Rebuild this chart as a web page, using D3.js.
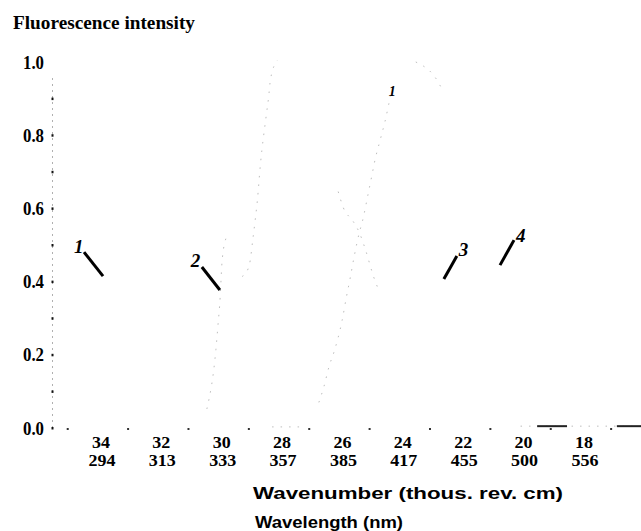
<!DOCTYPE html>
<html><head><meta charset="utf-8">
<script src="https://cdn.jsdelivr.net/npm/d3@7"></script>
<style>body{margin:0;background:#fff}svg{display:block}</style>
</head><body><svg id="c" width="641" height="531"></svg>
<script>
// ---- data ----
const yTicks = [0.0, 0.2, 0.4, 0.6, 0.8, 1.0];
const yTickLabels = ["0.0", "0.2", "0.4", "0.6", "0.8", "1.0"];
const yMinorTicks = [0.1, 0.3, 0.5, 0.7, 0.9];
const wavenumberTicks = [34, 32, 30, 28, 26, 24, 22, 20, 18];
const wavelengthLabels = ["294", "313", "333", "357", "385", "417", "455", "500", "556"];
const oddTicks = [35, 33, 31, 29, 27, 25, 23, 21, 19, 17];

// visible (faded) traces of the spectra, wavenumber (thous.) / intensity
const curve1W = [26.78, 26.61, 26.44, 26.27, 26.01, 25.87, 25.74, 25.61, 25.44, 25.34, 25.14, 25.0, 24.94, 24.74, 24.6, 24.37];
const curve1I = [0.07, 0.114, 0.169, 0.21, 0.294, 0.357, 0.411, 0.469, 0.534, 0.564, 0.643, 0.70, 0.725, 0.79, 0.834, 0.924];
const curve1topW = [23.57, 22.76, 22.66];
const curve1topI = [1.0, 0.935, 0.916];
const curve2W = [29.32, 29.12, 29.05, 28.98, 28.88, 28.82, 28.72, 28.52, 28.45, 28.38, 28.15];
const curve2I = [0.414, 0.436, 0.46, 0.507, 0.575, 0.619, 0.717, 0.856, 0.90, 0.954, 1.005];
const curve2bW = [26.14, 25.97, 25.64, 25.44, 25.24, 24.97, 24.77];
const curve2bI = [0.646, 0.602, 0.564, 0.534, 0.488, 0.414, 0.371];
const curve3W = [30.49, 30.19, 30.12, 30.05, 30.02, 29.99, 29.85];
const curve3I = [0.052, 0.215, 0.283, 0.357, 0.406, 0.452, 0.52];
const tailLightW = [28.33, 27.41];
const tailLightI = [0.003, 0.003];
const tailW = [20.1, 16.11];
const tailI = [0.005, 0.005];
const tailDarkAW = [19.55, 18.56];
const tailDarkBW = [16.91, 16.11];

// curve labels and the points their pointers touch
const labelNames = ["1", "2", "3", "4"];
const labelW = [33.93, 30.06, 22.64, 20.78];
const labelI = [0.415, 0.377, 0.407, 0.445];
const peakLabelW = 24.37, peakLabelI = 0.924;

// ---- drawing ----
const svg = d3.select("#c");
const x = d3.scaleLinear().domain([35.62, 16.11]).range([52, 641]);
const y = d3.scaleLinear().domain([0, 1]).range([428, 62]);

const serif = "'Liberation Serif','Times New Roman',serif";
const sans = "'Liberation Sans',Arial,sans-serif";

// title
svg.append("text").attr("x", 13).attr("y", 29)
  .attr("font-family", serif).attr("font-weight", "bold").attr("font-size", 18)
  .attr("textLength", 182).attr("lengthAdjust", "spacingAndGlyphs")
  .text("Fluorescence intensity");

// y axis (dotted)
svg.append("line").attr("x1", 52.5).attr("x2", 52.5).attr("y1", y(0)).attr("y2", y(0.96))
  .attr("stroke", "#b0b0b0").attr("stroke-width", 1).attr("stroke-dasharray", "2,4");
svg.selectAll(".ytd").data(yTicks.concat(yMinorTicks).filter(v => v <= 0.96))
  .enter().append("rect").attr("x", 51.5).attr("y", d => y(d) - 1).attr("width", 2).attr("height", 2.5)
  .attr("fill", "#111");
svg.selectAll(".ytl").data(yTicks).enter().append("text")
  .attr("x", 44).attr("y", d => y(d) + 6.5).attr("text-anchor", "end")
  .attr("font-family", serif).attr("font-weight", "bold").attr("font-size", 18)
  .attr("textLength", 21).attr("lengthAdjust", "spacingAndGlyphs")
  .text((d, i) => yTickLabels[i]);

// x axis: dots at odd wavenumbers, two rows of labels
svg.selectAll(".xd").data(oddTicks).enter().append("rect")
  .attr("x", d => x(d) - 4).attr("y", 428).attr("width", 2).attr("height", 2).attr("fill", "#333");
svg.selectAll(".xl1").data(wavenumberTicks).enter().append("text")
  .attr("x", d => x(d)).attr("y", 447.5).attr("text-anchor", "middle")
  .attr("font-family", serif).attr("font-weight", "bold").attr("font-size", 16)
  .attr("textLength", 18).attr("lengthAdjust", "spacingAndGlyphs")
  .text(d => d);
svg.selectAll(".xl2").data(wavenumberTicks).enter().append("text")
  .attr("x", d => x(d) + 1).attr("y", 466).attr("text-anchor", "middle")
  .attr("font-family", serif).attr("font-weight", "bold").attr("font-size", 16)
  .attr("textLength", 27).attr("lengthAdjust", "spacingAndGlyphs")
  .text((d, i) => wavelengthLabels[i]);

svg.append("text").attr("x", 253).attr("y", 499)
  .attr("font-family", sans).attr("font-weight", "bold").attr("font-size", 17)
  .attr("textLength", 310).attr("lengthAdjust", "spacingAndGlyphs")
  .text("Wavenumber (thous. rev. cm)");
svg.append("text").attr("x", 255).attr("y", 528)
  .attr("font-family", sans).attr("font-weight", "bold").attr("font-size", 17)
  .attr("textLength", 148).attr("lengthAdjust", "spacingAndGlyphs")
  .text("Wavelength (nm)");

// faded curves
const line = d3.line().x(d => x(d[0])).y(d => y(d[1])).curve(d3.curveMonotoneX);
function pts(W, I) { return W.map((w, i) => [w, I[i]]); }
const faint = [pts(curve1W, curve1I), pts(curve1topW, curve1topI), pts(curve2W, curve2I),
               pts(curve2bW, curve2bI), pts(curve3W, curve3I), pts(tailLightW, tailLightI),
               pts(tailW, tailI)];
faint.forEach(p => {
  svg.append("path").attr("d", line(p.slice().sort((a, b) => b[0] - a[0])))
    .attr("fill", "none").attr("stroke", "#bdbdbd").attr("stroke-width", 1)
    .attr("stroke-dasharray", "1.5,7");
});
[tailDarkAW, tailDarkBW].forEach(W => {
  svg.append("path").attr("d", line(W.map(w => [w, tailI[0]])))
    .attr("fill", "none").attr("stroke", "#222").attr("stroke-width", 2);
});

// curve labels with pointer strokes
const lineOff = [[-19, -24], [-18, -23], [13, -23], [14, -25]];
const textOff = [[-29, -23], [-29, -23], [15, -23], [16, -23]];
labelNames.forEach((n, i) => {
  const ax = x(labelW[i]), ay = y(labelI[i]);
  svg.append("line").attr("x1", ax + lineOff[i][0]).attr("y1", ay + lineOff[i][1])
    .attr("x2", ax).attr("y2", ay).attr("stroke", "#000").attr("stroke-width", 3);
  svg.append("text").attr("x", ax + textOff[i][0]).attr("y", ay + textOff[i][1])
    .attr("font-family", serif).attr("font-weight", "bold").attr("font-style", "italic")
    .attr("font-size", 19).text(n);
});
svg.append("text").attr("x", x(peakLabelW) - 3).attr("y", y(peakLabelI) + 6)
  .attr("font-family", serif).attr("font-weight", "bold").attr("font-style", "italic")
  .attr("font-size", 14).text("1");
</script></body></html>
